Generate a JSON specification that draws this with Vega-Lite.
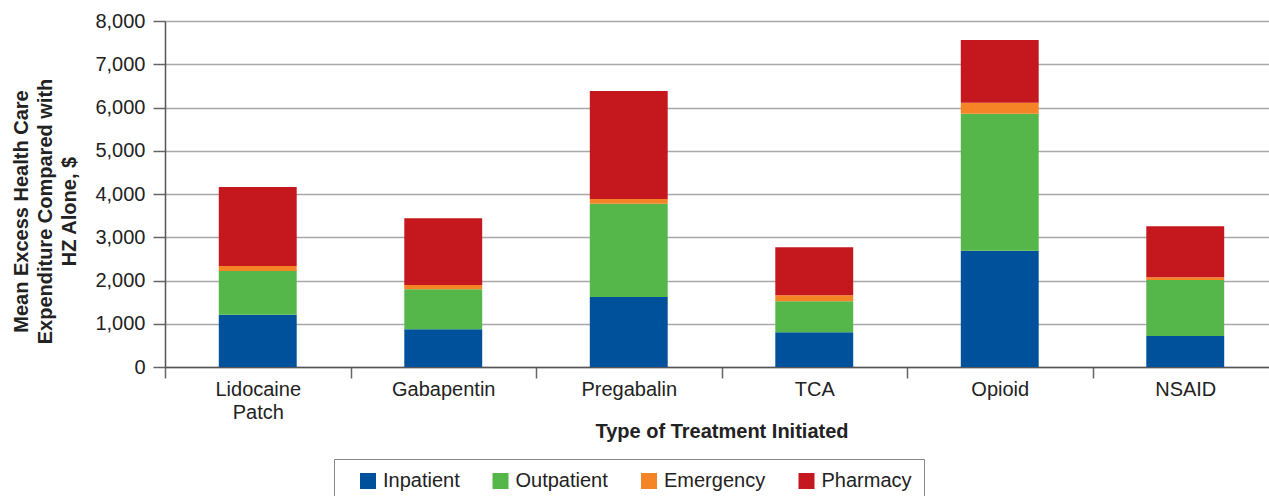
{
  "$schema": "https://vega.github.io/schema/vega-lite/v6.json",
  "autosize": "none",
  "width": 1104,
  "height": 346,
  "padding": {"left": 165, "top": 21, "right": 0, "bottom": 129},
  "background": "white",
  "config": {"view": {"stroke": null}, "font": "Liberation Sans"},
  "data": {
    "values": [
      {"treatment": "Lidocaine Patch", "category": "Inpatient", "cost": 1210},
      {"treatment": "Lidocaine Patch", "category": "Outpatient", "cost": 1012},
      {"treatment": "Lidocaine Patch", "category": "Emergency", "cost": 116},
      {"treatment": "Lidocaine Patch", "category": "Pharmacy", "cost": 1822},
      {"treatment": "Gabapentin", "category": "Inpatient", "cost": 870},
      {"treatment": "Gabapentin", "category": "Outpatient", "cost": 928},
      {"treatment": "Gabapentin", "category": "Emergency", "cost": 100},
      {"treatment": "Gabapentin", "category": "Pharmacy", "cost": 1544},
      {"treatment": "Pregabalin", "category": "Inpatient", "cost": 1620},
      {"treatment": "Pregabalin", "category": "Outpatient", "cost": 2153},
      {"treatment": "Pregabalin", "category": "Emergency", "cost": 109},
      {"treatment": "Pregabalin", "category": "Pharmacy", "cost": 2500},
      {"treatment": "TCA", "category": "Inpatient", "cost": 803},
      {"treatment": "TCA", "category": "Outpatient", "cost": 718},
      {"treatment": "TCA", "category": "Emergency", "cost": 139},
      {"treatment": "TCA", "category": "Pharmacy", "cost": 1111},
      {"treatment": "Opioid", "category": "Inpatient", "cost": 2685},
      {"treatment": "Opioid", "category": "Outpatient", "cost": 3172},
      {"treatment": "Opioid", "category": "Emergency", "cost": 254},
      {"treatment": "Opioid", "category": "Pharmacy", "cost": 1451},
      {"treatment": "NSAID", "category": "Inpatient", "cost": 718},
      {"treatment": "NSAID", "category": "Outpatient", "cost": 1296},
      {"treatment": "NSAID", "category": "Emergency", "cost": 62},
      {"treatment": "NSAID", "category": "Pharmacy", "cost": 1181}
    ]
  },
  "transform": [
    {"calculate": "indexof(['Inpatient', 'Outpatient', 'Emergency', 'Pharmacy'], datum.category)", "as": "stackOrder"}
  ],
  "mark": {"type": "bar", "width": {"band": 0.42}},
  "encoding": {
    "x": {
      "field": "treatment",
      "type": "nominal",
      "sort": ["Lidocaine Patch", "Gabapentin", "Pregabalin", "TCA", "Opioid", "NSAID"],
      "scale": {"range": [0, 1113], "paddingInner": 0, "paddingOuter": 0},
      "axis": {
        "title": "Type of Treatment Initiated",
        "titleFontSize": 20,
        "titleFontWeight": "bold",
        "titleColor": "#222",
        "titleBaseline": "alphabetic",
        "titleY": 70,
        "labelAngle": 0,
        "labelFontSize": 20,
        "labelColor": "#222",
        "labelPadding": 1,
        "labelLineHeight": 23,
        "labelExpr": "datum.value == 'Lidocaine Patch' ? ['Lidocaine', 'Patch'] : datum.value",
        "tickBand": "extent",
        "tickSize": 11,
        "tickColor": "#666",
        "domainColor": "#555",
        "domainWidth": 1.5,
        "tickWidth": 1.5
      }
    },
    "y": {
      "field": "cost",
      "type": "quantitative",
      "stack": "zero",
      "scale": {"domain": [0, 8000]},
      "axis": {
        "title": ["Mean Excess Health Care", "Expenditure Compared with", "HZ Alone, $"],
        "titleFontSize": 20,
        "titleFontWeight": "bold",
        "titleColor": "#222",
        "titleLineHeight": 24,
        "titleAngle": -90,
        "titleAlign": "center",
        "titleBaseline": "middle",
        "titleX": -143.5,
        "titleY": 190,
        "values": [0, 1000, 2000, 3000, 4000, 5000, 6000, 7000, 8000],
        "format": ",d",
        "labelFontSize": 20,
        "labelColor": "#222",
        "labelPadding": 8,
        "tickSize": 12,
        "tickColor": "#666",
        "tickWidth": 1.5,
        "domainColor": "#555",
        "domainWidth": 1.5,
        "grid": true,
        "gridColor": "#a8a8a8",
        "gridWidth": 1.5
      }
    },
    "color": {
      "field": "category",
      "type": "nominal",
      "sort": ["Inpatient", "Outpatient", "Emergency", "Pharmacy"],
      "scale": {
        "domain": ["Inpatient", "Outpatient", "Emergency", "Pharmacy"],
        "range": ["#00519b", "#55b74a", "#f58426", "#c5171e"]
      },
      "legend": {
        "title": null,
        "orient": "none",
        "legendX": 169,
        "legendY": 438,
        "direction": "horizontal",
        "symbolType": "square",
        "symbolSize": 256,
        "symbolStrokeWidth": 0,
        "symbolOpacity": 1,
        "symbolOffset": 12,
        "labelFontSize": 20,
        "labelColor": "#222",
        "labelOffset": 5,
        "columnPadding": 18.5,
        "padding": 12,
        "strokeColor": "#888",
        "fillColor": "white"
      }
    },
    "order": {"field": "stackOrder", "type": "quantitative", "sort": "ascending"}
  }
}
